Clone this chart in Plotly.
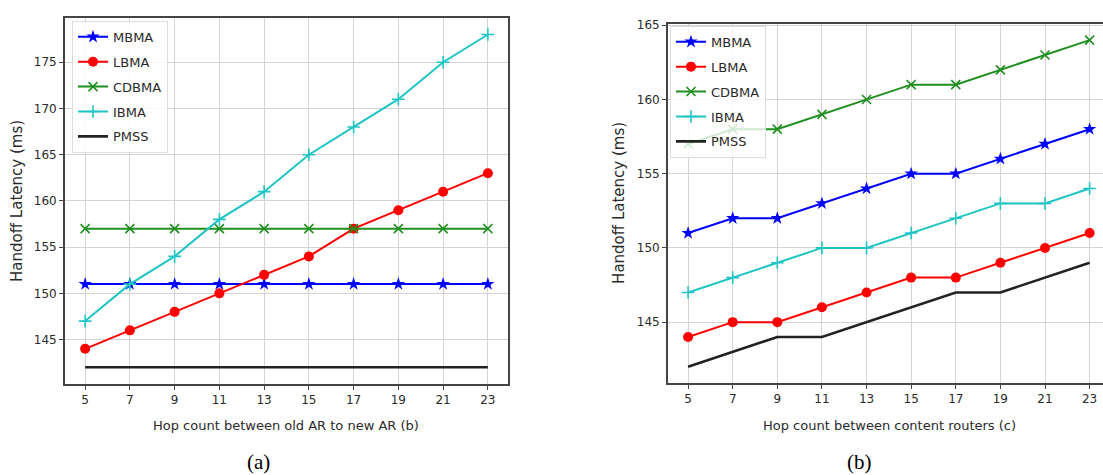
import plotly.graph_objects as go

hops = [5, 7, 9, 11, 13, 15, 17, 19, 21, 23]
tick_vals_a = [145, 150, 155, 160, 165, 170, 175]
tick_vals_b = [145, 150, 155, 160, 165]

# Panel (a): hop count between old AR to new AR
a_mbma = [151, 151, 151, 151, 151, 151, 151, 151, 151, 151]
a_lbma = [144, 146, 148, 150, 152, 154, 157, 159, 161, 163]
a_cdbma = [157, 157, 157, 157, 157, 157, 157, 157, 157, 157]
a_ibma = [147, 151, 154, 158, 161, 165, 168, 171, 175, 178]
a_pmss = [142, 142, 142, 142, 142, 142, 142, 142, 142, 142]

# Panel (b): hop count between content routers
b_mbma = [151, 152, 152, 153, 154, 155, 155, 156, 157, 158]
b_lbma = [144, 145, 145, 146, 147, 148, 148, 149, 150, 151]
b_cdbma = [157, 158, 158, 159, 160, 161, 161, 162, 163, 164]
b_ibma = [147, 148, 149, 150, 150, 151, 152, 153, 153, 154]
b_pmss = [142, 143, 144, 144, 145, 146, 147, 147, 148, 149]

names = ["MBMA", "LBMA", "CDBMA", "IBMA", "PMSS"]
colors = ["#0000ff", "#ff0000", "#1f8f1f", "#1fc4c4", "#222222"]
styles = [
    dict(symbol="star", size=10, line=dict(width=0)),
    dict(symbol="circle", size=10, line=dict(width=0)),
    dict(symbol="x-thin", size=9, line=dict(width=1.6, color="#1f8f1f")),
    dict(symbol="cross-thin", size=9, line=dict(width=1.6, color="#1fc4c4")),
    None,
]
FONT = "DejaVu Sans"
TXT = "#2a2a2a"

fig = go.Figure()

def add_panel(series, xa, ya, legend, group_prefix):
    for name, vals, col, st in zip(names, series, colors, styles):
        if st is None:
            mode = "lines"
            marker = None
            width = 2.6
        else:
            mode = "lines+markers"
            marker = dict(color=col, **st)
            width = 2
        fig.add_trace(go.Scatter(
            x=hops, y=vals, name=name, mode=mode,
            line=dict(color=col, width=width),
            marker=marker, xaxis=xa, yaxis=ya, legend=legend,
            legendgroup=group_prefix + name,
        ))

add_panel([a_mbma, a_lbma, a_cdbma, a_ibma, a_pmss], "x", "y", "legend", "a")
add_panel([b_mbma, b_lbma, b_cdbma, b_ibma, b_pmss], "x2", "y2", "legend2", "b")

axis_common = dict(
    showgrid=True, gridcolor="#d4d4d4", gridwidth=1.3,
    showline=True, linecolor="#444444", linewidth=1.8,
    ticks="outside", ticklen=4, tickcolor="#444444",
    tickfont=dict(family=FONT, size=12, color=TXT),
    zeroline=False,
)

W, H = 1103, 475
def px_x(p): return p / W
def px_y(p): return (H - p) / H

fig.update_layout(
    width=W, height=H,
    margin=dict(l=0, r=0, t=0, b=0),
    paper_bgcolor="white", plot_bgcolor="white",
    showlegend=True,
    xaxis=dict(domain=[px_x(65), px_x(508)], range=[4.1, 23.9],
               tickvals=hops, mirror=True, anchor="y", **axis_common),
    yaxis=dict(domain=[px_y(383), px_y(13)], range=[140.2, 179.8],
               tickvals=tick_vals_a, mirror=True, anchor="x", **axis_common),
    xaxis2=dict(domain=[px_x(668), 1.0], range=[4.1, 23.6],
                tickvals=hops, mirror=True, anchor="y2", **axis_common),
    yaxis2=dict(domain=[px_y(382), px_y(19)], range=[140.9, 165.1],
                tickvals=tick_vals_b, mirror=False, anchor="x2", **axis_common),
    legend=dict(x=px_x(72), y=px_y(16), xanchor="left", yanchor="top",
                bgcolor="rgba(255,255,255,0.8)", bordercolor="#dddddd", borderwidth=1,
                font=dict(family=FONT, size=13, color=TXT),
                tracegroupgap=5, itemwidth=30),
    legend2=dict(x=px_x(670), y=px_y(21), xanchor="left", yanchor="top",
                 bgcolor="rgba(255,255,255,0.8)", bordercolor="#dddddd", borderwidth=1,
                 font=dict(family=FONT, size=13, color=TXT),
                 tracegroupgap=5, itemwidth=30),
)

annotations = [
    dict(text="Handoff Latency (ms)", x=px_x(17), y=px_y(198), textangle=-90, size=15),
    dict(text="Handoff Latency (ms)", x=px_x(619), y=px_y(200), textangle=-90, size=15),
    dict(text="Hop count between old AR to new AR (b)", x=px_x(286), y=px_y(425), size=13),
    dict(text="Hop count between content routers (c)", x=px_x(889), y=px_y(425), size=13),
]
for a in annotations:
    size = a.pop("size")
    fig.add_annotation(xref="paper", yref="paper", showarrow=False,
                       xanchor="center", yanchor="middle",
                       font=dict(family=FONT, size=size, color=TXT), **a)

for txt, xc in [("(a)", 258), ("(b)", 859)]:
    fig.add_annotation(text=txt, xref="paper", yref="paper", x=px_x(xc), y=px_y(462),
                       showarrow=False, xanchor="center", yanchor="middle",
                       font=dict(family="Liberation Serif", size=21, color="#000000"))

fig.write_html("out.html", config={"displayModeBar": False},
               post_script="document.body.style.margin='0px';document.body.style.overflow='hidden';")
